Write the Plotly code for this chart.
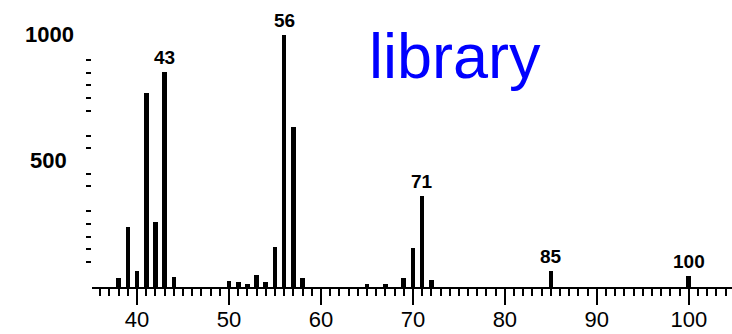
import plotly.graph_objects as go

# m/z and relative abundance (base peak = 1000)
mz = [38, 39, 40, 41, 42, 43, 44, 50, 51, 52, 53, 54, 55, 56, 57, 58,
      65, 67, 69, 70, 71, 72, 85, 100]
abundance = [34, 239, 65, 769, 259, 854, 41, 24, 18, 13, 48, 21, 160, 1000, 634, 34,
             12, 12, 37, 153, 361, 28, 65, 44]

# peaks carrying an m/z label
labelled_peaks = [43, 56, 71, 85, 100]

# axis ticks
x_major = [40, 50, 60, 70, 80, 90, 100]
y_minor = [100, 150, 200, 250, 300, 400, 450, 550, 600, 700, 750, 800, 850, 900]
y_labels = [1000, 500]

FONT = "Liberation Sans, Arial, sans-serif"

fig = go.Figure(go.Bar(
    x=mz, y=abundance, width=0.5,
    marker=dict(color="black", line=dict(width=0)),
    hoverinfo="x+y",
))

for m in labelled_peaks:
    fig.add_annotation(
        x=m, y=abundance[mz.index(m)], text=f"<b>{m}</b>",
        showarrow=False, yanchor="bottom", yshift=2,
        font=dict(family=FONT, size=19, color="black"),
    )

for v, shift in zip(y_labels, [-16, -23]):
    fig.add_annotation(
        x=0, xref="paper", y=v, text=f"<b>{v}</b>",
        showarrow=False, xanchor="right", yanchor="middle", xshift=shift,
        font=dict(family=FONT, size=22, color="black"),
    )

fig.add_annotation(
    x=0.43, xref="paper", y=1.0, yref="paper", text="library",
    showarrow=False, xanchor="left", yanchor="top", yshift=-9,
    font=dict(family=FONT, size=63, color="#0000FF"),
)

fig.update_layout(
    width=732, height=334,
    margin=dict(l=92, r=0, t=10, b=47),
    paper_bgcolor="white", plot_bgcolor="white",
    showlegend=False, bargap=0,
    xaxis=dict(
        range=[35.1, 104.7], tickmode="array", tickvals=x_major,
        ticks="outside", ticklen=16, tickwidth=2, tickcolor="black",
        showline=True, linecolor="black", linewidth=2,
        showgrid=False, zeroline=False,
        tickfont=dict(family=FONT, size=22, color="black"),
        tickprefix="<b>", ticksuffix="</b>", ticklabelstandoff=-4,
        minor=dict(dtick=1, tick0=0, ticks="outside", ticklen=7,
                   tickwidth=2, tickcolor="black", showgrid=False),
    ),
    yaxis=dict(
        range=[0, 1099], tickmode="array", tickvals=y_minor,
        ticks="outside", ticklen=5, tickwidth=2, tickcolor="black",
        showticklabels=False, showline=False, showgrid=False, zeroline=False,
    ),
)

fig.write_html("out.html")
